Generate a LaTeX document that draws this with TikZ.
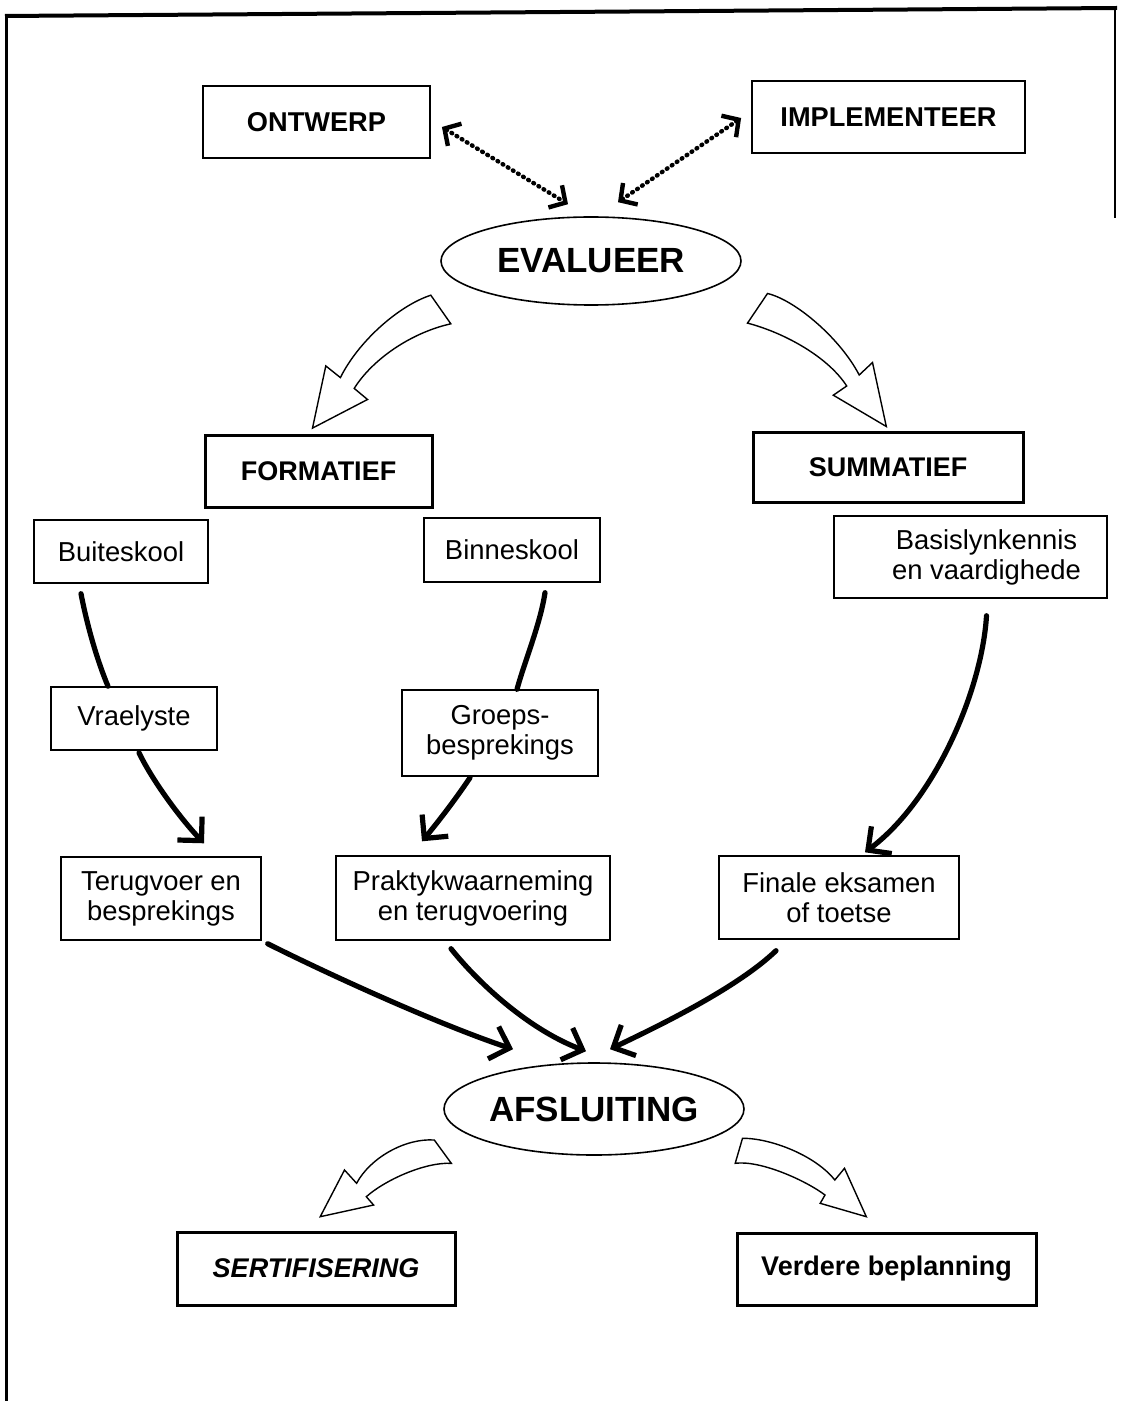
\documentclass[tikz,border=0pt]{standalone}
\usepackage{fontspec}
\setmainfont{Liberation Sans}
\usetikzlibrary{arrows.meta,calc,shapes.geometric}
\begin{document}
\begin{tikzpicture}[x=0.5pt,y=-0.5pt,
  thinbox/.style={draw,line width=0.7pt,inner sep=0pt,align=center,font=\fontsize{13.7}{15}\selectfont},
  dashbox/.style={draw,line width=0.9pt,inner sep=0pt,align=center,font=\bfseries\fontsize{13.6}{15}\selectfont},
  thickbox/.style={draw,line width=1.5pt,inner sep=0pt,align=center,font=\bfseries\fontsize{13.5}{15}\selectfont},
  ell/.style={draw,ellipse,line width=0.8pt,inner sep=0pt,font=\bfseries\fontsize{17.5}{20}\selectfont},
  conn/.style={line width=2.6pt,line cap=round},
  connarr/.style={conn,-{Straight Barb[length=8.5pt,width=17pt,line width=2.6pt]}},
  dotarr/.style={line width=2.2pt,line cap=round,dash pattern=on 0.4pt off 2.6pt,
     {Straight Barb[length=6pt,width=13pt,line width=2.2pt]}-{Straight Barb[length=6pt,width=13pt,line width=2.2pt]}},
  blockarr/.style={draw,fill=white,line width=0.7pt,line join=miter}
]
\useasboundingbox (0,0) rectangle (1120,1401);

% outer frame
\draw[line width=2pt] (5,16) -- (1117,8);
\draw[line width=1.5pt] (6,15) -- (6,1401);
\draw[line width=1pt] (1115,9) -- (1115,218);

% nodes
\node[dashbox,minimum width=113.5pt,minimum height=36pt] (ontwerp) at (316.5,122) {ONTWERP};
\node[dashbox,minimum width=136.5pt,minimum height=36pt] (impl) at (888.5,117) {IMPLEMENTEER};
\node[ell,minimum width=150pt,minimum height=44pt] (eval) at (591,261) {EVALUEER};
\node[thickbox,minimum width=113.5pt,minimum height=36pt] (form) at (318.5,471) {FORMATIEF};
\node[thickbox,minimum width=135pt,minimum height=35pt] (summ) at (888,467) {SUMMATIEF};
\node[thinbox,minimum width=87pt,minimum height=31.5pt] (buite) at (121,551.5) {Buiteskool};
\node[thinbox,minimum width=88pt,minimum height=32pt] (binne) at (512,550) {Binneskool};
\node[thinbox,minimum width=136.5pt,minimum height=41pt] (basis) at (970.5,557) {\hspace*{16pt}Basislynkennis\\\hspace*{16pt}en vaardighede};
\node[thinbox,minimum width=83pt,minimum height=31.5pt] (vrael) at (134,718.5) {Vraelyste};
\node[thinbox,minimum width=98pt,minimum height=43pt] (groeps) at (500,733) {Groeps-\\besprekings};
\node[thinbox,minimum width=100pt,minimum height=41.5pt] (terug) at (161,898.5) {Terugvoer en\\besprekings};
\node[thinbox,minimum width=137pt,minimum height=42pt] (prakt) at (473,898) {Praktykwaarneming\\en terugvoering};
\node[thinbox,minimum width=120pt,minimum height=41.5pt] (finale) at (839,897.5) {Finale eksamen\\of toetse};
\node[ell,minimum width=150pt,minimum height=46pt] (afs) at (594,1109) {AFSLUITING};
\node[thickbox,minimum width=139pt,minimum height=36.5pt] (sert) at (316,1268.5) {\itshape SERTIFISERING};
\node[thickbox,minimum width=149.5pt,minimum height=36pt] (verdere) at (886.5,1269) {Verdere beplanning};

% dotted double arrows
\draw[dotarr] ($(ontwerp.east)+(11,5)$) -- ($(eval.north)+(-23,-12)$);
\draw[dotarr] ($(impl.west)+(-10,1)$) -- ($(eval.north)+(27,-14)$);

% block arrows (top)
\draw[blockarr] (430.8,295.2) .. controls (398,306) and (358,342) .. (340.4,377.6)
  -- (325.8,365.9) -- (312.5,428.1) -- (367.5,399.5) -- (354.2,388.4)
  .. controls (372,360) and (410,333) .. (450.8,323.8) -- cycle;
\draw[blockarr] (767.5,293.5) .. controls (795,300) and (840,338) .. (859.2,375)
  -- (872.5,362.5) -- (886.3,426.5) -- (833.3,395.2) -- (846.7,386)
  .. controls (828,357) and (785,333) .. (747.5,323.1) -- cycle;

% block arrows (bottom)
\draw[blockarr] (434.3,1140) .. controls (405,1138) and (370,1158) .. (356.6,1183.3)
  -- (344.5,1170) -- (320.2,1216.7) -- (373.6,1205) -- (366.3,1196.7)
  .. controls (385,1180) and (425,1162) .. (451.3,1163.3) -- cycle;
\draw[blockarr] (742.5,1138.3) .. controls (770,1138) and (815,1155) .. (834.8,1180)
  -- (844.5,1168.3) -- (866.3,1216.7) -- (820.2,1203.3) -- (825,1195)
  .. controls (805,1180) and (760,1160) .. (735.2,1163.3) -- cycle;

% connectors
\draw[conn] ($(buite.south)+(-40,10)$) .. controls (87,625) and (97,660) .. ($(vrael.north)+(-26,0)$);
\draw[connarr] ($(vrael.south)+(5,2)$) .. controls (152,780) and (180,818) .. ($(terug.north)+(43,-13)$);
\draw[conn] ($(binne.south)+(33,10)$) .. controls (540,625) and (525,660) .. ($(groeps.north)+(17,0)$);
\draw[connarr] ($(groeps.south)+(-30,1)$) .. controls (455,800) and (438,822) .. ($(prakt.north)+(-51,-14)$);
\draw[connarr] ($(basis.south)+(16,17)$) .. controls (982,690) and (935,800) .. ($(finale.north)+(26,-3)$);
\draw[connarr] ($(terug.south east)+(6,3)$) .. controls (330,975) and (440,1025) .. ($(afs.north)+(-81,-13)$);
\draw[connarr] ($(prakt.south)+(-22,8)$) .. controls (480,985) and (530,1030) .. ($(afs.north)+(-8,-11)$);
\draw[connarr] ($(finale.south)+(-63,11)$) .. controls (735,990) and (650,1030) .. ($(afs.north)+(16,-13)$);
\end{tikzpicture}
\end{document}
